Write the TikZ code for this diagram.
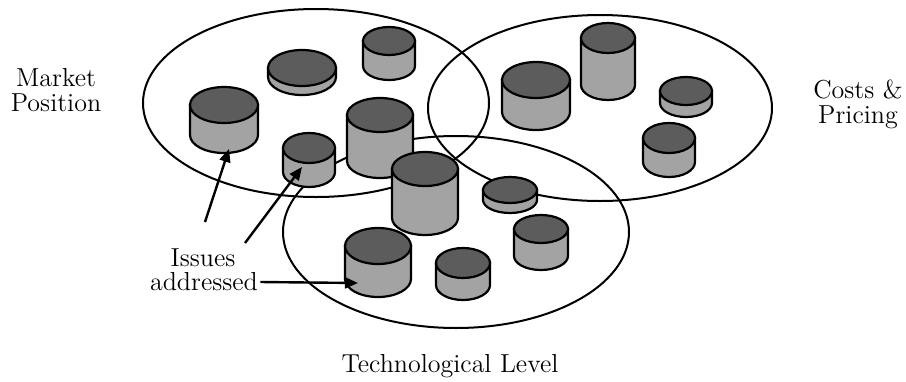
\documentclass[tikz,border=0pt]{standalone}
\usetikzlibrary{arrows.meta}

\definecolor{drumdark}{gray}{0.36}
\definecolor{drumlight}{gray}{0.64}

% drum: name, x, y of top centre, x radius, y radius, height
\newcommand{\drum}[6]{%
  \filldraw[drum side] (#2-#4,#3) -- (#2-#4,#3+#6)
    arc[start angle=180, end angle=0, x radius=#4, y radius=#5] -- (#2+#4,#3) -- cycle;
  \filldraw[drum top] (#2,#3) ellipse[x radius=#4, y radius=#5];
  \coordinate (#1) at (#2,#3+#6);
}

\begin{document}
\begin{tikzpicture}[x=0.5pt, y=-0.5pt,
    area/.style={draw, line width=1pt},
    drum side/.style={fill=drumlight, draw=black, line width=1.1pt},
    drum top/.style={fill=drumdark, draw=black, line width=1.1pt},
    label text/.style={align=center, inner sep=1pt, font=\fontsize{13}{12.5}\selectfont},
    pointer/.style={line width=1.2pt, -{Triangle[length=6.5pt, width=5.5pt]}}]

    \useasboundingbox (0,0) rectangle (906,381);

    % The three areas
    \draw[area] (316,103) ellipse[x radius=173, y radius=94];
    \draw[area] (600,108) ellipse[x radius=172, y radius=93];
    \draw[area] (456,232) ellipse[x radius=173, y radius=96];

    % Market position
    \drum{mpC}{389}{41}{26}{14}{25}
    \drum{mpB}{302}{68}{34}{18}{9}
    \drum{mpA}{224}{105}{34}{18}{30}
    \drum{mpE}{380}{115}{33}{17}{46}
    \drum{mpD}{309}{148}{26}{15}{24}

    % Costs & pricing
    \drum{cpB}{608}{38}{27}{15}{47}
    \drum{cpA}{536}{80}{34}{18}{32}
    \drum{cpC}{686}{91}{26}{14}{12}
    \drum{cpD}{669}{138}{26}{15}{24}

    % Technological level
    \drum{tlA}{425}{169}{33}{17}{49}
    \drum{tlB}{510}{190}{27}{13}{10}
    \drum{tlC}{541}{229}{27}{14}{27}
    \drum{tlD}{378}{246}{33}{18}{33}
    \drum{tlE}{463}{263}{27}{15}{22}

    % Labels
    \node[label text] (market) at (56,90) {Market\\Position};
    \node[label text] (costs) at (858,104) {Costs \&\\Pricing};
    \node[label text] (tech) at (450,366) {Technological Level};
    \node[label text] (issues) at (203,258) {Issues};
    \node[label text] (addressed) at (204,282) {addressed};

    % Pointers
    \coordinate (tailA) at (205,222);
    \coordinate (tailB) at (245,243);
    \coordinate (tipA) at (229,149);
    \coordinate (tipB) at (302,167);
    \coordinate (tipC) at (358,283);
    \draw[pointer] (tailA) -- (tipA);
    \draw[pointer] (tailB) -- (tipB);
    \draw[pointer] (addressed.east) -- (tipC);

\end{tikzpicture}
\end{document}
